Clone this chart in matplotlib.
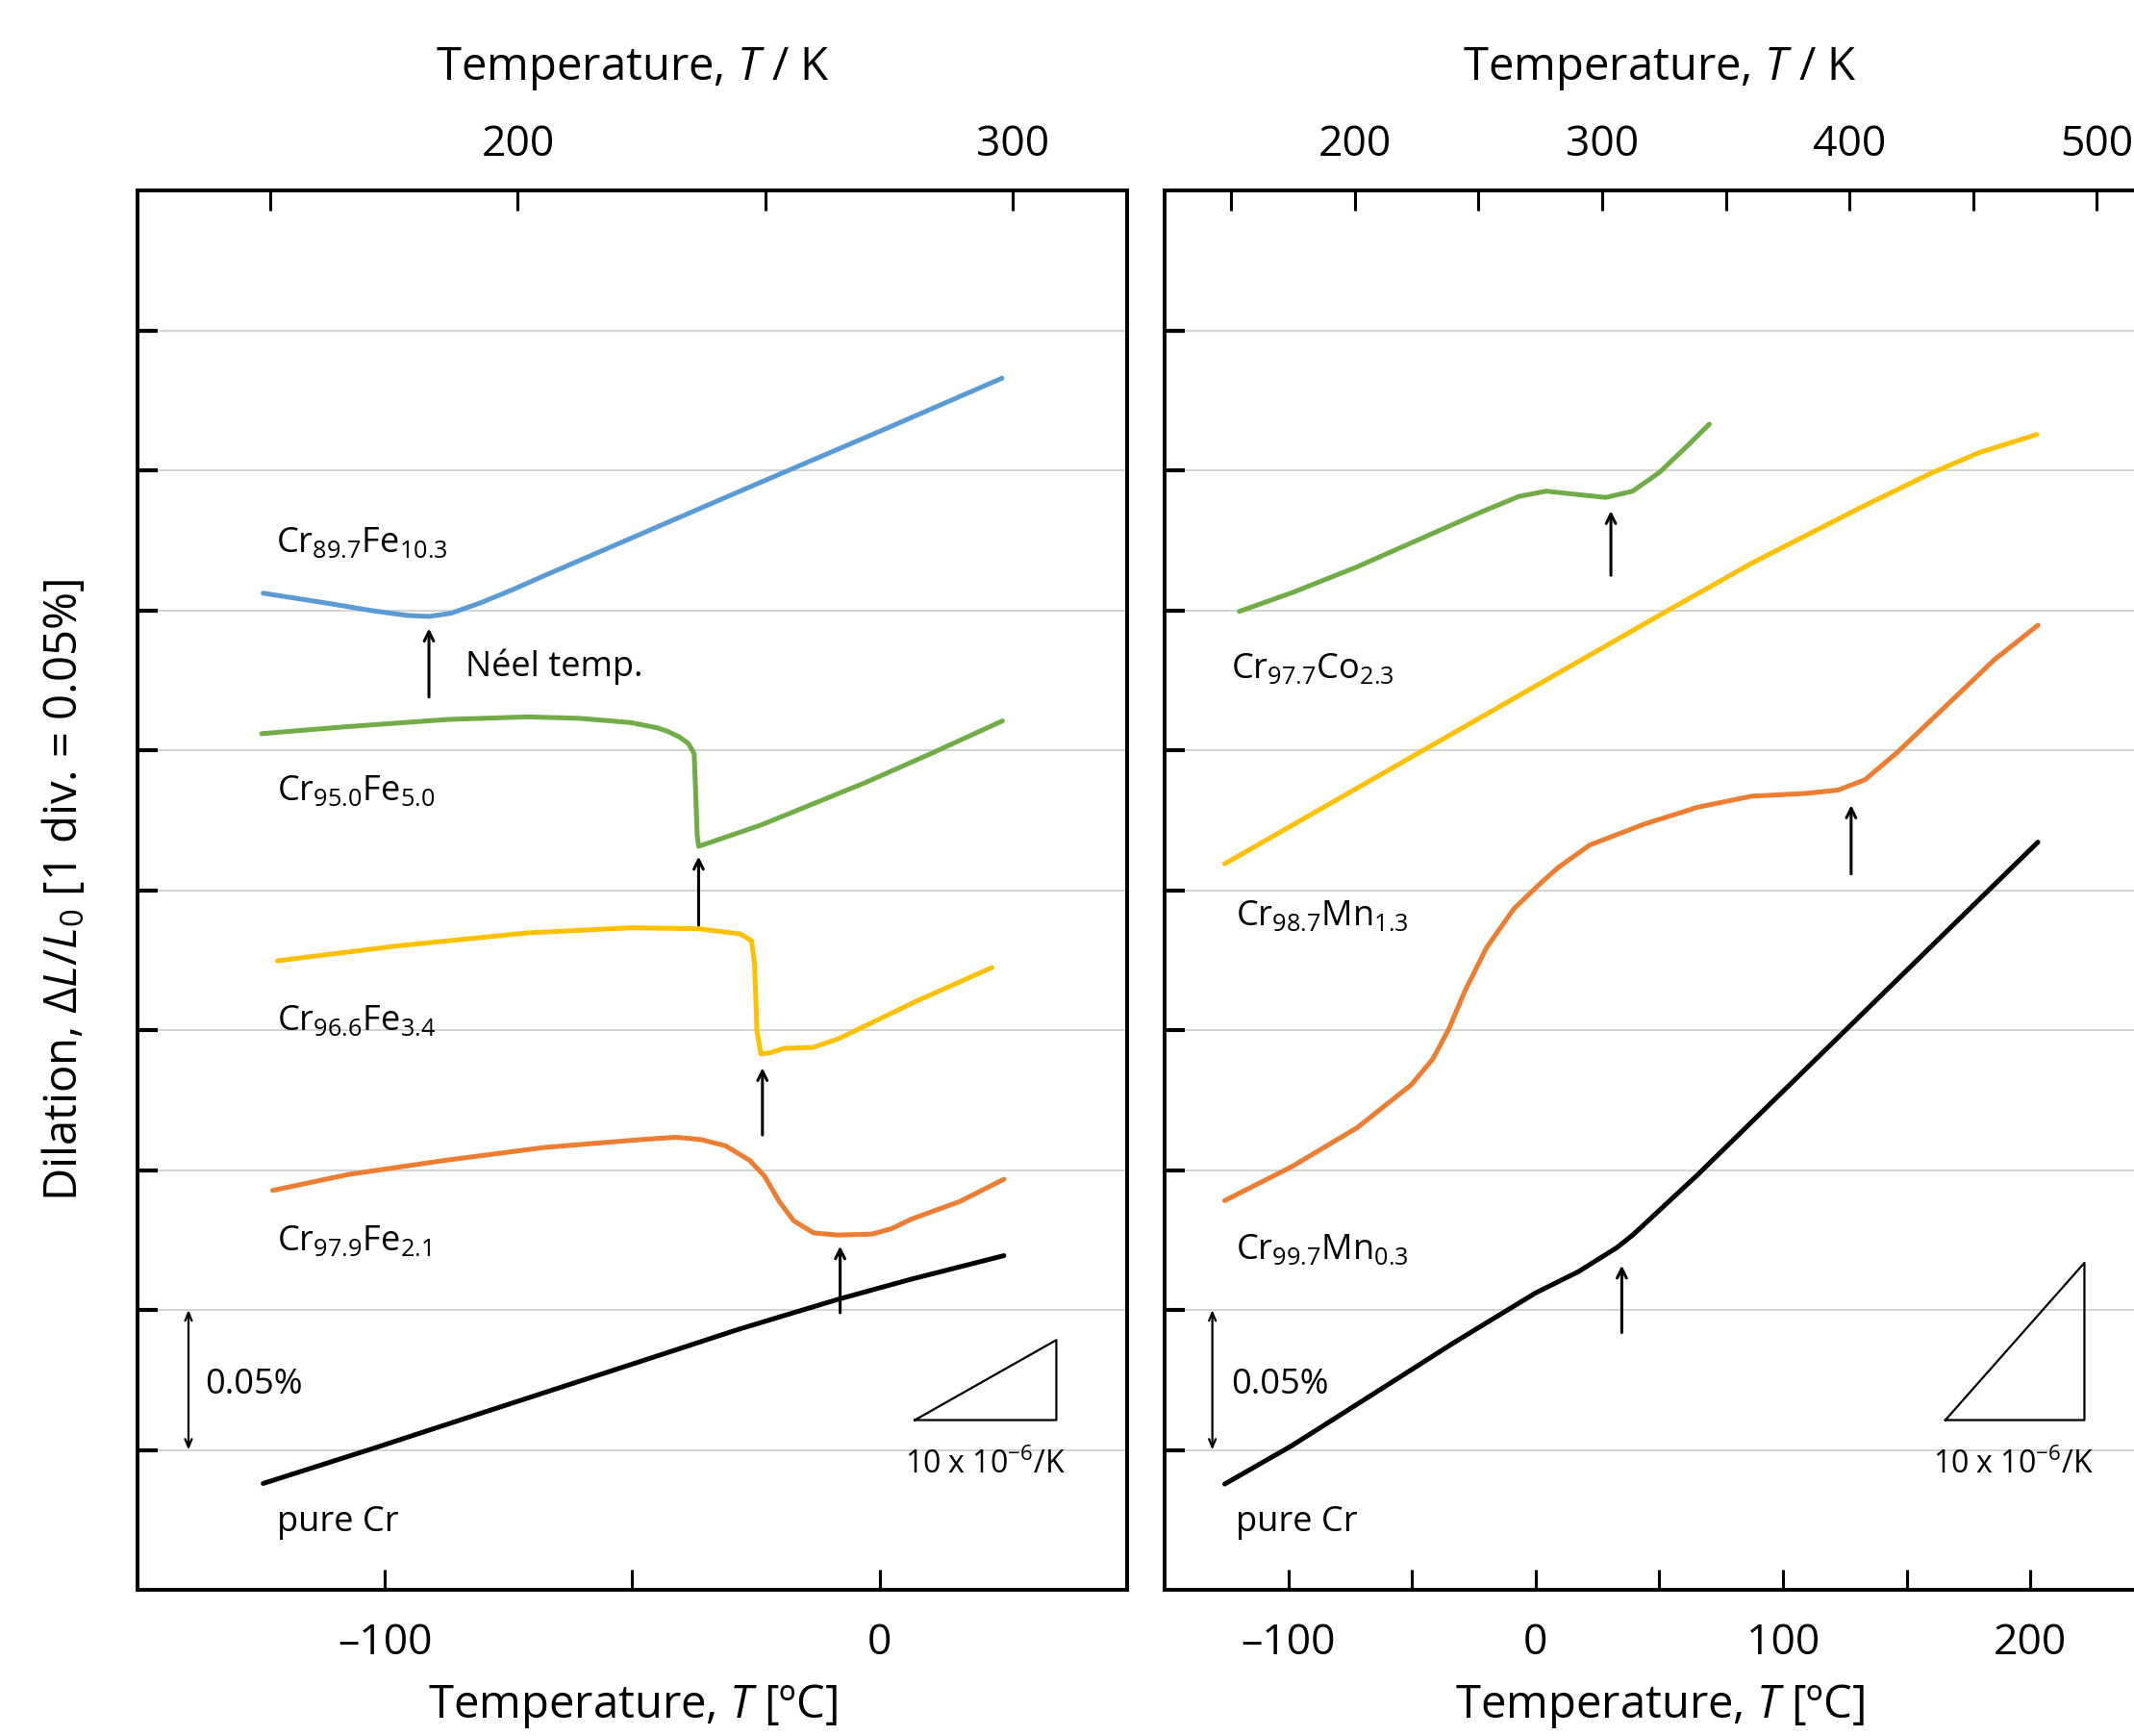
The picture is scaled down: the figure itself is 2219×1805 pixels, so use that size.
import numpy as np
import matplotlib.pyplot as plt

plt.rcParams['font.family'] = ['Open Sans', 'DejaVu Sans']
plt.rcParams['mathtext.fontset'] = 'custom'
plt.rcParams['mathtext.rm'] = 'Open Sans'
plt.rcParams['mathtext.it'] = 'Open Sans:italic'
plt.rcParams['mathtext.bf'] = 'Open Sans:bold'

BLUE = '#5b9bd5'
GREEN = '#70ad47'
YELLOW = '#ffc000'
ORANGE = '#ed7d31'

# ---- left panel: Cr-Fe  (x in degC, y in divisions, 1 div = 0.05 %)
fe103_t = [-124.6, -112.3, -102.4, -95.5, -91.0, -86.6, -80.6, -74, -67.8, -48.0, -28.3, -18.4, 1.4, 24.7]
fe103_d = [7.122, 7.054, 6.996, 6.963, 6.956, 6.979, 7.054, 7.15, 7.247, 7.549, 7.85, 8.0, 8.30, 8.658]

fe50_t = [-124.9, -108.1, -87.1, -71.3, -60.8, -50.3, -45, -42.9, -40.5, -38.7, -37.5, -37.2,
          -36.9, -36.6, -34.5, -24.0, -3.0, 10, 24.8]
fe50_d = [6.118, 6.167, 6.22, 6.238, 6.228, 6.197, 6.16, 6.135, 6.095, 6.049, 5.975, 5.705,
          5.40, 5.313, 5.338, 5.465, 5.767, 5.97, 6.209]

fe34_t = [-121.7, -97.6, -71.3, -50.3, -36.6, -28.2, -25.9, -25.3, -24.8, -24.0, -21.9, -19.3,
          -13.5, -8.3, 7.5, 22.7]
fe34_d = [4.495, 4.601, 4.694, 4.731, 4.724, 4.687, 4.638, 4.478, 3.987, 3.828, 3.84, 3.869,
          3.876, 3.938, 4.208, 4.447]

fe21_t = [-122.7, -107.4, -87.6, -67.8, -48.0, -41.1, -36.2, -31.2, -26.3, -23.3, -20.3, -17.4,
          -13.4, -8.5, -1.6, 2.4, 6.4, 16.2, 25.1]
fe21_d = [2.854, 2.968, 3.07, 3.161, 3.218, 3.234, 3.218, 3.173, 3.07, 2.957, 2.775, 2.638,
          2.551, 2.535, 2.542, 2.581, 2.649, 2.775, 2.934]

crL_t = [-124.6, -102.4, -77.7, -48.0, -28.3, -8.5, 6.4, 25.1]
crL_d = [0.76, 1.01, 1.295, 1.636, 1.864, 2.075, 2.22, 2.388]

# ---- right panel: Cr-Co, Cr-Mn
co23_t = [-119.8, -98.4, -72.2, -43.8, -21.9, -6.7, 4.3, 17.4, 28.3, 39.2, 50.1, 61.0, 70.2]
co23_d = [6.992, 7.126, 7.31, 7.532, 7.703, 7.814, 7.851, 7.826, 7.806, 7.851, 7.986, 8.17, 8.33]

mn13y_t = [-125.7, -87.5, -43.8, -0.1, 52.3, 87.2, 130.9, 159.3, 179, 202.6]
mn13y_d = [5.188, 5.574, 6.016, 6.458, 6.987, 7.335, 7.73, 7.975, 8.125, 8.256]

mn13_t = [-125.7, -98.4, -72.2, -50.3, -41.6, -35.1, -28.5, -19.8, -8.8, 2.1, 9.0, 21.8, 43.6,
          65.4, 87.2, 109.1, 122.2, 133.1, 146.2, 163.7, 185.5, 203]
mn13_d = [2.781, 3.026, 3.302, 3.609, 3.793, 4.008, 4.284, 4.591, 4.867, 5.052, 5.16, 5.322, 5.47,
          5.592, 5.671, 5.691, 5.715, 5.789, 5.985, 6.28, 6.648, 6.893]

crR_t = [-125.7, -98.4, -65.6, -32.9, -0.1, 17.4, 32.6, 39.2, 65.4, 98.2, 130.9, 163.7, 203]
crR_d = [0.756, 1.032, 1.40, 1.768, 2.121, 2.275, 2.443, 2.535, 2.965, 3.532, 4.097, 4.664, 5.343]

# Neel temperature arrows: (T, tail, tip)
arrowsL = [(-91.1, 6.38, 6.87), (-36.6, 4.75, 5.24), (-23.7, 3.25, 3.73), (-8.0, 1.98, 2.456)]
arrowsR = [(30.4, 7.25, 7.71), (127.5, 5.116, 5.607), (34.8, 1.838, 2.318)]


def c2k(t):
    return np.asarray(t) + 273.15


def k2c(k):
    return np.asarray(k) - 273.15


def clabel(c):
    return ('%d' % c).replace('-', '\u2013') if c % 100 == 0 else ''


fig = plt.figure(figsize=(22.19, 18.05), dpi=100)
ax1 = fig.add_axes([0.06444, 0.08421, 0.46372, 0.80609])
ax2 = fig.add_axes([0.54574, 0.08421, 0.46372, 0.80609])


def setup(ax, xlim, cticks, kticks):
    ax.set_xlim(xlim)
    ax.set_ylim(0, 10)
    ax.set_axisbelow(True)
    ax.set_yticks(range(1, 10))
    ax.set_yticklabels([])
    ax.grid(axis='y', color='#d4d4d4', lw=1.4)
    ax.tick_params(axis='y', direction='in', length=15, width=3, left=True, right=False)
    ax.set_xticks(cticks)
    ax.set_xticklabels([clabel(c) for c in cticks])
    ax.tick_params(axis='x', direction='in', length=15, width=2.2, labelsize=32, pad=24)
    for s in ax.spines.values():
        s.set_linewidth(2.8)
    sec = ax.secondary_xaxis('top', functions=(c2k, k2c))
    sec.set_xticks(kticks)
    sec.set_xticklabels([('%d' % k if k % 100 == 0 else '') for k in kticks])
    sec.tick_params(direction='in', length=15, width=2.2, labelsize=32, pad=18)
    sec.spines['top'].set_linewidth(2.8)
    ax.text(0.5, 1.087, 'Temperature, $\\mathit{T}$ / K', transform=ax.transAxes,
            ha='center', va='center', fontsize=34)
    ax.text(0.5, -0.083, 'Temperature, $\\mathit{T}$ [ºC]', transform=ax.transAxes,
            ha='center', va='center', fontsize=34)


setup(ax1, (-150, 50), [-100, -50, 0], [150, 200, 250, 300])
setup(ax2, (-150, 250), [-100, -50, 0, 50, 100, 150, 200], [150, 200, 250, 300, 350, 400, 450, 500])

lw = 3.6
style = dict(lw=lw, solid_capstyle='round', solid_joinstyle='round')
ax1.plot(fe103_t, fe103_d, color=BLUE, **style)
ax1.plot(fe50_t, fe50_d, color=GREEN, **style)
ax1.plot(fe34_t, fe34_d, color=YELLOW, **style)
ax1.plot(fe21_t, fe21_d, color=ORANGE, **style)
ax1.plot(crL_t, crL_d, color='black', **style)

ax2.plot(co23_t, co23_d, color=GREEN, **style)
ax2.plot(mn13y_t, mn13y_d, color=YELLOW, **style)
ax2.plot(mn13_t, mn13_d, color=ORANGE, **style)
ax2.plot(crR_t, crR_d, color='black', **style)

for ax, arrows in ((ax1, arrowsL), (ax2, arrowsR)):
    for t, y0, y1 in arrows:
        ax.annotate('', xy=(t, y1), xytext=(t, y0),
                    arrowprops=dict(arrowstyle='->,head_length=0.7,head_width=0.35',
                                    lw=2.2, color='black', shrinkA=0, shrinkB=0))

fs = 26
ax1.text(-122, 7.418, 'Cr$_{89.7}$Fe$_{10.3}$', fontsize=fs, va='baseline')
ax1.text(-83.7, 6.53, 'Néel temp.', fontsize=fs, va='baseline')
ax1.text(-121.9, 5.644, 'Cr$_{95.0}$Fe$_{5.0}$', fontsize=fs, va='baseline')
ax1.text(-121.9, 4.0, 'Cr$_{96.6}$Fe$_{3.4}$', fontsize=fs, va='baseline')
ax1.text(-121.9, 2.426, 'Cr$_{97.9}$Fe$_{2.1}$', fontsize=fs, va='baseline')
ax1.text(-121.9, 0.419, 'pure Cr', fontsize=fs, va='baseline')

ax2.text(-123.2, 6.518, 'Cr$_{97.7}$Co$_{2.3}$', fontsize=fs, va='baseline')
ax2.text(-121.4, 4.748, 'Cr$_{98.7}$Mn$_{1.3}$', fontsize=fs, va='baseline')
ax2.text(-121.4, 2.363, 'Cr$_{99.7}$Mn$_{0.3}$', fontsize=fs, va='baseline')
ax2.text(-121.4, 0.417, 'pure Cr', fontsize=fs, va='baseline')

# 0.05 % scale bars and 10e-6/K slope triangles
for ax, xbar, xtxt, tri0, tri1, xlab in ((ax1, -139.7, -136.3, 7.1, 35.7, 21.3),
                                          (ax2, -130.7, -123.0, 165.6, 221.8, 193.0)):
    ax.annotate('', xy=(xbar, 1.0), xytext=(xbar, 2.0),
                arrowprops=dict(arrowstyle='<->,head_length=0.6,head_width=0.25',
                                lw=1.6, color='black', shrinkA=0, shrinkB=0))
    ax.text(xtxt, 1.405, '0.05%', fontsize=fs, va='baseline')
    h = 0.02 * (tri1 - tri0)
    ax.plot([tri0, tri1, tri1, tri0], [1.213, 1.213, 1.213 + h, 1.213], color='black', lw=1.6)
    ax.text(xlab, 0.834, '10 x 10$^{-6}$/K', fontsize=23, ha='center', va='baseline')

fig.text(67 / 2219, 0.4873, 'Dilation, $\\Delta\\mathit{L}/\\mathit{L}_0$ [1 div. = 0.05%]',
         rotation=90, ha='center', va='center', fontsize=34)

fig.savefig('out.png', dpi=100)
